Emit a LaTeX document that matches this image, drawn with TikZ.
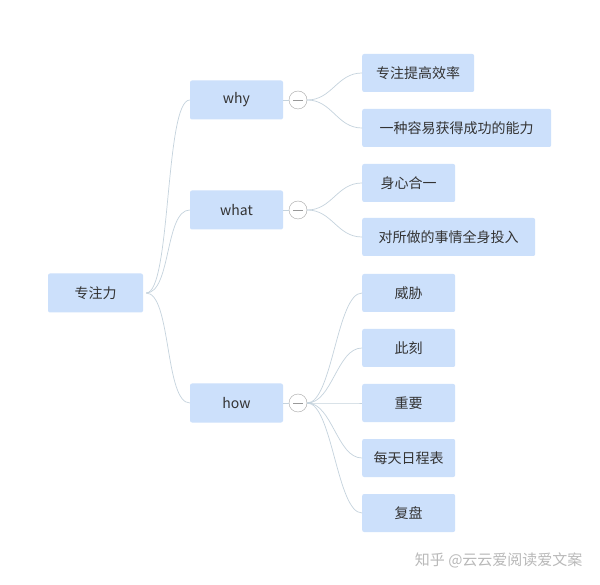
\documentclass[tikz,border=0pt]{standalone}
\usepackage{fontspec}
\setmainfont{Noto Sans CJK SC}
\begin{document}
\begin{tikzpicture}[x=1pt,y=-1pt,
  box/.style={draw=none,fill=boxc,rounded corners=2pt,minimum height=39pt,inner sep=0pt,font=\fontsize{14}{14}\selectfont,text=txt},
  leaf/.style={box,minimum height=38pt},
  col/.style={circle,draw=gray!70,fill=white,minimum size=18pt,inner sep=0pt},
  ln/.style={draw=linec,line width=0.7pt}]
\definecolor{boxc}{HTML}{CCE0FB}
\definecolor{txt}{HTML}{333333}
\definecolor{linec}{HTML}{C5D3DD}
\useasboundingbox (0,0) rectangle (600,585);
\fill[white] (0,0) rectangle (600,585);
\node[box,minimum width=95pt] (root) at (95.5,293) {专注力};
\node[box,minimum width=93pt] (why) at (236.5,100) {why};
\node[box,minimum width=93pt] (what) at (236.5,210) {what};
\node[box,minimum width=93pt] (how) at (236.5,403) {how};
\node[col] (cwhy) at (298,100) {};
\node[col] (cwhat) at (298,210) {};
\node[col] (chow) at (298,403) {};
\foreach \c in {cwhy,cwhat,chow} \draw[gray!80,line width=0.8pt] ([xshift=-5pt]\c.center) -- ([xshift=5pt]\c.center);
\node[leaf,minimum width=112pt,anchor=west] (a1) at (362,73) {专注提高效率};
\node[leaf,minimum width=189pt,anchor=west] (a2) at (362,128) {一种容易获得成功的能力};
\node[leaf,minimum width=93pt,anchor=west] (b1) at (362,183) {身心合一};
\node[leaf,minimum width=173pt,anchor=west] (b2) at (362,237) {对所做的事情全身投入};
\node[leaf,minimum width=93pt,anchor=west] (c1) at (362,293) {威胁};
\node[leaf,minimum width=93pt,anchor=west] (c2) at (362,348) {此刻};
\node[leaf,minimum width=93pt,anchor=west] (c3) at (362,403) {重要};
\node[leaf,minimum width=93pt,anchor=west] (c4) at (362,458) {每天日程表};
\node[leaf,minimum width=93pt,anchor=west] (c5) at (362,513) {复盘};
\coordinate (rs) at ([xshift=3pt]root.east);
\foreach \t in {why,what,how}
  \draw[ln] (rs) .. controls +(25,0) and +(-25,0) .. (\t.west);
\draw[ln] (why.east) -- (cwhy.west);
\draw[ln] (what.east) -- (cwhat.west);
\draw[ln] (how.east) -- (chow.west);
\foreach \c/\t in {cwhy/a1,cwhy/a2,cwhat/b1,cwhat/b2,chow/c1,chow/c2,chow/c3,chow/c4,chow/c5}
  \draw[ln] (\c.east) .. controls +(25,0) and +(-25,0) .. (\t.west);
\node[text=gray!55,font=\fontsize{15}{15}\selectfont,anchor=east] (wm) at (586,560) {知乎 @云云爱阅读爱文案};
\end{tikzpicture}
\end{document}
